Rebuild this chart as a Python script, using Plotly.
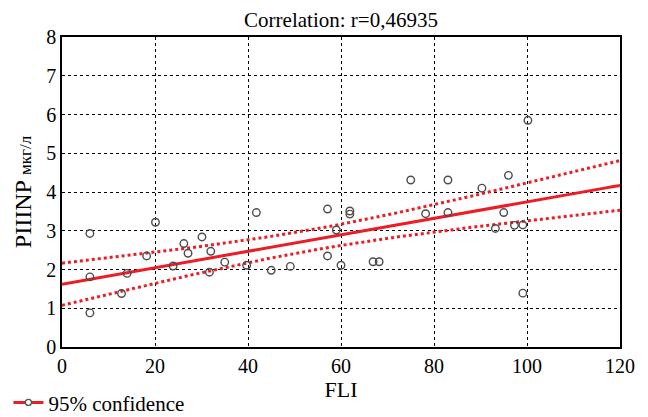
import numpy as np
import plotly.graph_objects as go

fli = [6.0, 6.0, 6.0, 12.8, 14.0, 18.2, 20.1, 23.9, 26.2, 27.1, 30.1, 31.7, 32.0, 35.0,
       39.7, 41.8, 45.0, 49.1, 57.1, 57.1, 59.0, 60.0, 61.9, 61.9, 66.9, 68.2, 75.0,
       78.2, 83.0, 83.0, 90.3, 93.2, 95.0, 96.0, 97.3, 99.1, 99.1, 100.2]
piiinp = [2.93, 1.81, 0.88, 1.38, 1.90, 2.35, 3.22, 2.09, 2.67, 2.42, 2.84, 1.93, 2.47, 2.19,
          2.11, 3.47, 1.98, 2.08, 3.56, 2.35, 3.02, 2.11, 3.51, 3.43, 2.20, 2.20, 4.31,
          3.44, 3.47, 4.31, 4.10, 3.06, 3.47, 4.43, 3.14, 3.15, 1.39, 5.85]

# regression line
fit_intercept = 1.62
fit_slope = 0.02125

x_ticks = [0, 20, 40, 60, 80, 100, 120]
y_ticks = [0, 1, 2, 3, 4, 5, 6, 7, 8]
title_text = "Correlation: r=0,46935"
x_title = "FLI"
y_title = "PIIINP <span style='font-size:17px'>мкг/л</span>"
legend_text = "95% confidence"
t_crit = 2.028  # t(0.975, df=36)

x = np.array(fli)
y = np.array(piiinp)
n = len(x)
resid = y - (fit_intercept + fit_slope * x)
s = np.sqrt(np.sum(resid ** 2) / (n - 2))
sxx = np.sum((x - x.mean()) ** 2)
xs = np.linspace(0, 120, 121)
yfit = fit_intercept + fit_slope * xs
half = t_crit * s * np.sqrt(1.0 / n + (xs - x.mean()) ** 2 / sxx)

red = "#ee1c25"
font = "Liberation Serif"

fig = go.Figure()
fig.add_trace(go.Scatter(x=xs, y=yfit, mode="lines", line=dict(color=red, width=3),
                         showlegend=False, hoverinfo="skip"))
fig.add_trace(go.Scatter(x=xs, y=yfit + half, mode="lines",
                         line=dict(color=red, width=3, dash="dot"), showlegend=False))
fig.add_trace(go.Scatter(x=xs, y=yfit - half, mode="lines",
                         line=dict(color=red, width=3, dash="dot"), showlegend=False))
fig.add_trace(go.Scatter(x=fli, y=piiinp, mode="markers",
                         marker=dict(symbol="circle-open", size=7.5, color="#4d4d4d",
                                     line=dict(width=1.4, color="#4d4d4d")),
                         showlegend=False))
fig.add_trace(go.Scatter(x=[None], y=[None], mode="lines+markers", name=legend_text,
                         line=dict(color=red, width=3),
                         marker=dict(symbol="circle", size=6, color="white",
                                     line=dict(width=1.3, color="#555555"))))

axis_common = dict(showline=True, linecolor="black", linewidth=1.5, mirror=True,
                   showgrid=True, gridcolor="black", gridwidth=1, griddash="dot",
                   zeroline=False, ticks="", automargin=False,
                   tickfont=dict(family=font, size=20, color="black"))
fig.update_xaxes(range=[0, 120], tickvals=x_ticks, **axis_common,
                 title=dict(text=x_title, font=dict(family=font, size=22, color="black"), standoff=4))
fig.update_yaxes(range=[0, 8], tickvals=y_ticks, **axis_common,
                 title=dict(text=y_title, font=dict(family=font, size=24, color="black"), standoff=8))

# the page body adds an 8px offset, so the figure is 8px smaller on each axis
fig.update_layout(
    width=640, height=409,
    margin=dict(l=54, r=28, t=29, b=70, autoexpand=False),
    paper_bgcolor="white", plot_bgcolor="white",
    title=dict(text=title_text, xref="paper", x=0.5, xanchor="center",
               yref="container", y=0.971, yanchor="middle",
               font=dict(family=font, size=21, color="black")),
    legend=dict(x=-0.096, xanchor="left", y=-0.18, yanchor="middle",
                font=dict(family=font, size=21, color="black"),
                bgcolor="rgba(0,0,0,0)", itemwidth=30),
    font=dict(family=font),
)

fig.write_html("out.html")
